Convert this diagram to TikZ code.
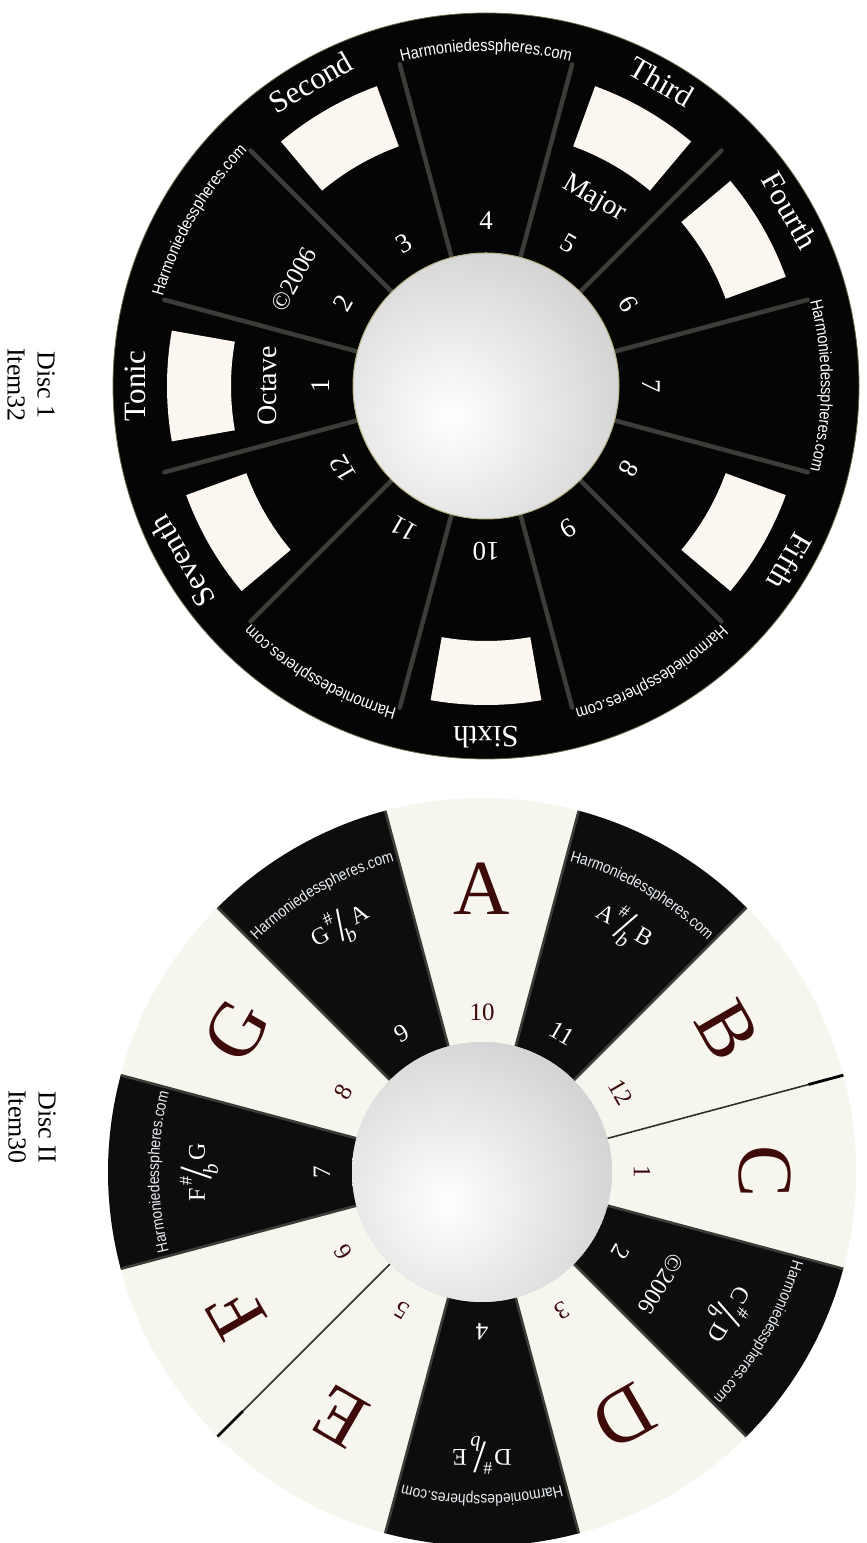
\documentclass[tikz,border=0pt]{standalone}
\usepackage{fontspec}
\setmainfont{Liberation Serif}
\newfontfamily\webfont[FakeStretch=0.86]{Liberation Sans}
\usetikzlibrary{decorations.text}
\definecolor{discblack}{HTML}{060505}
\definecolor{spokegray}{HTML}{3C3C38}
\definecolor{boxwhite}{HTML}{FCF6F1}
\definecolor{keycream}{HTML}{F7F6EE}
\definecolor{keyblack}{HTML}{0D0D0D}
\definecolor{notered}{HTML}{3D0909}
\definecolor{webwhite}{HTML}{E9EEF3}
\definecolor{hubgray}{HTML}{D4D4D4}
\definecolor{rimgold}{HTML}{B5AE82}

% sharp over flat, split by a long slash
\newcommand\keylabel[2]{#1\kern.08em\raisebox{.55em}{\fontsize{18}{18}\selectfont\#}\kern-.12em\raisebox{-.3em}{\fontsize{46}{46}\selectfont/}\kern-.3em\raisebox{-.55em}{\fontsize{21}{21}\selectfont\itshape b}\kern.14em#2}

\tikzset{
  num/.style={text=white, inner sep=0pt, font=\fontsize{27}{27}\selectfont},
  degree/.style={text=white, inner sep=0pt, font=\fontsize{31}{31}\selectfont},
  quality/.style={text=white, inner sep=0pt, font=\fontsize{28}{28}\selectfont},
  spoke/.style={spokegray, line width=4.5pt, line cap=round},
  keyedge/.style={spokegray, line width=2.6pt},
  seam/.style={spokegray!80!black, line width=1.6pt},
  seamend/.style={black, line width=2.8pt},
  note/.style={text=notered, inner sep=0pt, font=\fontsize{78}{78}\selectfont},
  keynum/.style={inner sep=0pt, font=\fontsize{25}{25}\selectfont},
  keyname/.style={text=white, inner sep=0pt, font=\fontsize{24}{24}\selectfont},
  caption/.style={align=center, inner sep=0pt, font=\fontsize{26}{30}\selectfont},
}

\begin{document}
\begin{tikzpicture}[x=1pt,y=1pt]
  \useasboundingbox (0,0) rectangle (867,1543);
  \fill[white] (0,0) rectangle (867,1543);
  \coordinate (discA) at (486,1157);
  \coordinate (discB) at (482,371);

  % captions
  \node[caption, rotate=-90] (capA) at (31,1158) {Disc 1\\Item32};
  \node[caption, rotate=-90] (capB) at (32,416) {Disc II\\Item30};

  % ---- disc 1 : intervals ----
  \fill[discblack] (discA) circle (373);
  \draw[rimgold!60!black, line width=0.8pt] (discA) circle (373);
  \foreach \n/\name in {1/Tonic,3/Second,5/Third,6/Fourth,8/Fifth,10/Sixth,12/Seventh}{
    \pgfmathsetmacro\ang{210-30*\n}
    \fill[boxwhite] ([shift={(\ang-10:255)}]discA) arc[start angle=\ang-10, end angle=\ang+10, radius=255]
      -- ([shift={(\ang+10:319)}]discA) arc[start angle=\ang+10, end angle=\ang-10, radius=319] -- cycle;
    \node[degree, rotate=\ang-90] (deg-\n) at ([shift={(\ang:351)}]discA) {\name};
  }
  \foreach \k in {0,...,11}{
    \pgfmathsetmacro\ang{15+30*\k}
    \draw[spoke] ([shift={(\ang:130)}]discA) -- ([shift={(\ang:333)}]discA);
  }
  \begin{scope}
    \clip (discA) circle (133);
    \fill[hubgray] (discA) circle (133);
    \shade[inner color=white, outer color=hubgray] ([shift={(-35,-30)}]discA) circle (175);
  \end{scope}
  \draw[rimgold, line width=1pt] (discA) circle (133);
  \foreach \n in {1,...,12}{
    \pgfmathsetmacro\ang{210-30*\n}
    \node[num, rotate=\ang-90] (one-\n) at ([shift={(\ang:165)}]discA) {\n};
  }
  \node[quality, rotate=90] (octave) at ([shift={(180:219)}]discA) {Octave};
  \node[quality, rotate=-30] (major) at ([shift={(60:216)}]discA) {Major};
  \node[quality, font=\fontsize{25}{25}\selectfont, rotate=61] (copyA) at ([shift={(151:220)}]discA) {©2006};
  \foreach \n in {2,4,7,9,11}{
    \pgfmathsetmacro\ang{210-30*\n}
    \path[decorate, decoration={text along path, text align=center, text color=white,
      text={|\webfont\fontsize{17}{17}\selectfont|Harmoniedesspheres.com}}]
      ([shift={(\ang+16:335)}]discA) arc[start angle=\ang+16, end angle=\ang-16, radius=335];
  }

  % ---- disc 2 : keys ----
  \fill[keycream] (discB) circle (374);
  \foreach \n in {2,4,7,9,11}{
    \pgfmathsetmacro\ang{390-30*\n}
    \fill[keyblack] (discB) -- ([shift={(\ang-15:374)}]discB) arc[start angle=\ang-15, end angle=\ang+15, radius=374] -- cycle;
    \draw[keyedge] ([shift={(\ang-15:128)}]discB) -- ([shift={(\ang-15:374)}]discB);
    \draw[keyedge] ([shift={(\ang+15:128)}]discB) -- ([shift={(\ang+15:374)}]discB);
  }
  \foreach \ang in {15,-135}{
    \draw[seam] ([shift={(\ang:128)}]discB) -- ([shift={(\ang:374)}]discB);
    \draw[seamend] ([shift={(\ang:338)}]discB) -- ([shift={(\ang:374)}]discB);
  }
  \begin{scope}
    \clip (discB) circle (130);
    \fill[hubgray] (discB) circle (130);
    \shade[inner color=white, outer color=hubgray] ([shift={(-35,-30)}]discB) circle (172);
  \end{scope}
  \foreach \n/\name in {10/A,12/B,1/C,3/D,5/E,6/F,8/G}{
    \pgfmathsetmacro\ang{390-30*\n}
    \node[note, rotate=\ang-90] (note-\n) at ([shift={(\ang:283)}]discB) {\name};
    \node[keynum, text=notered, rotate=\ang-90] (two-\n) at ([shift={(\ang:160)}]discB) {\n};
  }
  \foreach \n/\lo/\hi in {11/A/B,2/C/D,4/D/E,7/F/G,9/G/A}{
    \pgfmathsetmacro\ang{390-30*\n}
    \node[keyname, rotate=\ang-90] (key-\n) at ([shift={(\ang:283)}]discB) {\keylabel{\lo}{\hi}};
    \node[keynum, text=white, rotate=\ang-90] (two-\n) at ([shift={(\ang:160)}]discB) {\n};
    \path[decorate, decoration={text along path, text align=center, text color=webwhite,
      text={|\webfont\fontsize{16}{16}\selectfont|Harmoniedesspheres.com}}]
      ([shift={(\ang+16:323)}]discB) arc[start angle=\ang+16, end angle=\ang-16, radius=323];
  }
  \node[keyname, rotate=-122] (copyB) at ([shift={(-32:211)}]discB) {©2006};
\end{tikzpicture}
\end{document}
